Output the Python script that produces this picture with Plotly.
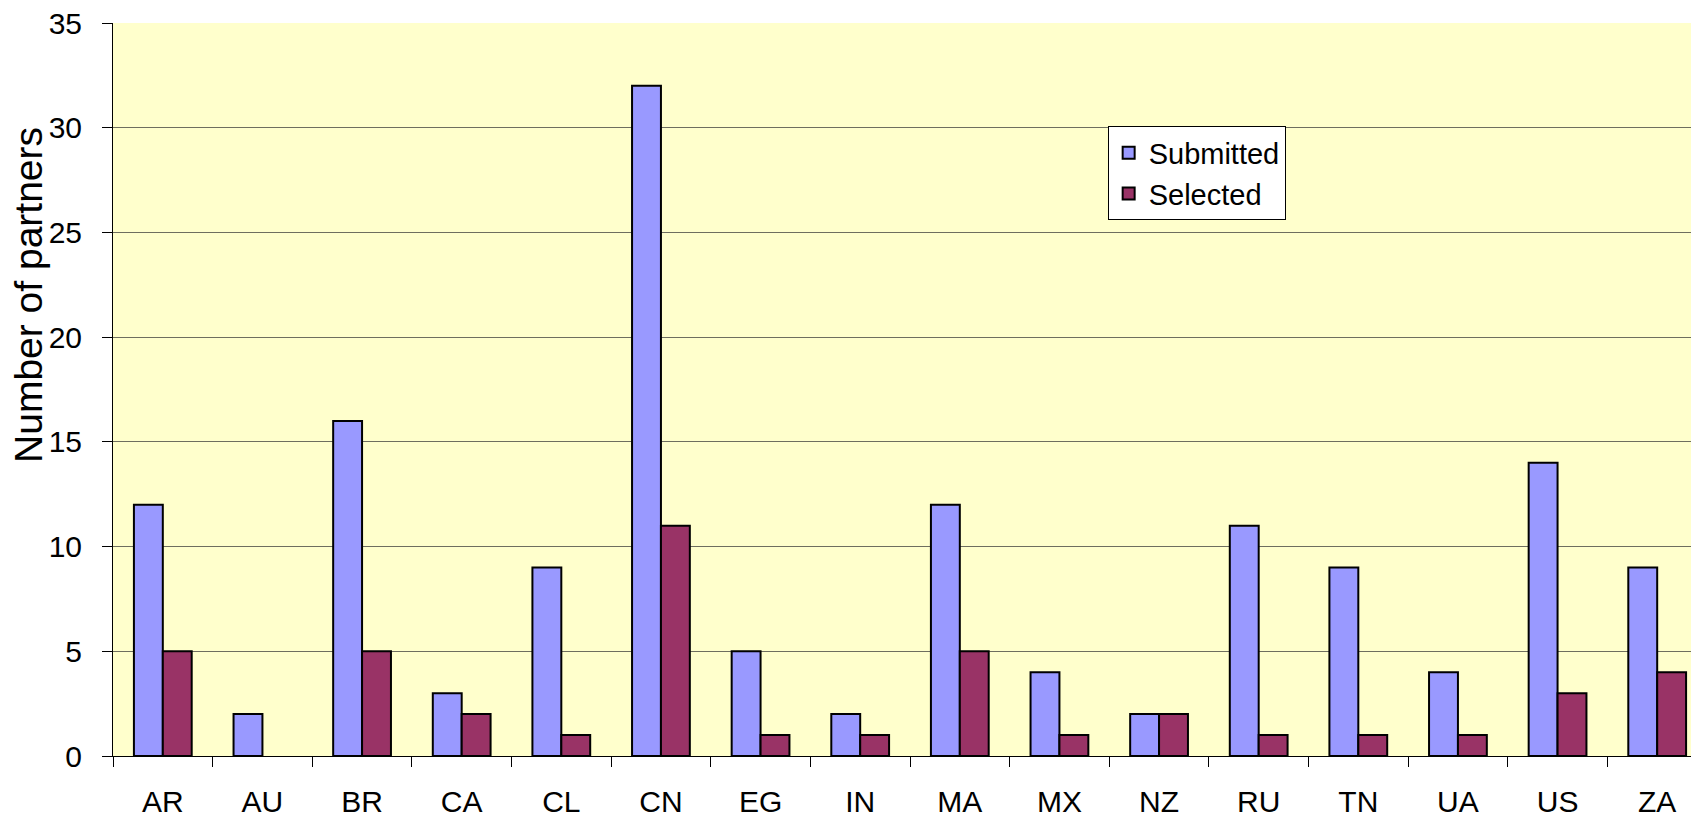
import plotly.graph_objects as go

countries = ["AR", "AU", "BR", "CA", "CL", "CN", "EG", "IN", "MA", "MX", "NZ", "RU", "TN", "UA", "US", "ZA"]
submitted = [12, 2, 16, 3, 9, 32, 5, 2, 12, 4, 2, 11, 9, 4, 14, 9]
selected = [5, 0, 5, 2, 1, 11, 1, 1, 5, 1, 2, 1, 1, 1, 3, 4]
y_ticks = [0, 5, 10, 15, 20, 25, 30, 35]

fig = go.Figure()
fig.add_trace(go.Bar(x=countries, y=submitted, name="Submitted", legendgroup="a",
                     marker=dict(color="#9999FF", line=dict(color="black", width=2))))
fig.add_trace(go.Bar(x=countries, y=[v if v else None for v in selected], name="Selected", legendgroup="b",
                     marker=dict(color="#993366", line=dict(color="black", width=2))))

font = "Liberation Sans, Arial, sans-serif"
fig.update_layout(
    width=1699, height=816,
    margin=dict(l=105, r=0, t=15, b=68),
    paper_bgcolor="white", plot_bgcolor="#FFFFCC",
    barmode="group", bargap=0.42, bargroupgap=0,
    font=dict(family=font, size=30, color="black"),
    showlegend=True,
    legend=dict(x=0.624, y=0.859, xanchor="left", yanchor="top",
                bgcolor="white", bordercolor="black", borderwidth=1,
                font=dict(size=29), tracegroupgap=0),
    xaxis=dict(type="category", range=[-0.5, 15.5], tickson="boundaries",
               ticks="outside", ticklen=10, tickcolor="black", tickwidth=1,
               showline=True, linecolor="black", linewidth=1, automargin=False,
               showgrid=False, tickfont=dict(size=30), ticklabelstandoff=19,
               ticklabeloverflow="allow"),
    yaxis=dict(range=[0, 35], tickvals=y_ticks, ticks="outside", ticklen=10,
               tickcolor="black", tickwidth=1, automargin=False,
               showline=True, linecolor="black", linewidth=1,
               showgrid=True, gridcolor="#6e6e5e", gridwidth=1,
               zeroline=False, tickfont=dict(size=30), ticklabelstandoff=14,
               ticklabeloverflow="allow"),
    annotations=[dict(text="Number of partners", xref="paper", yref="paper",
                      x=0, y=0.629, xshift=-84, xanchor="center", yanchor="middle",
                      textangle=-90, showarrow=False, font=dict(size=39))],
)
fig.write_html("out.html")
